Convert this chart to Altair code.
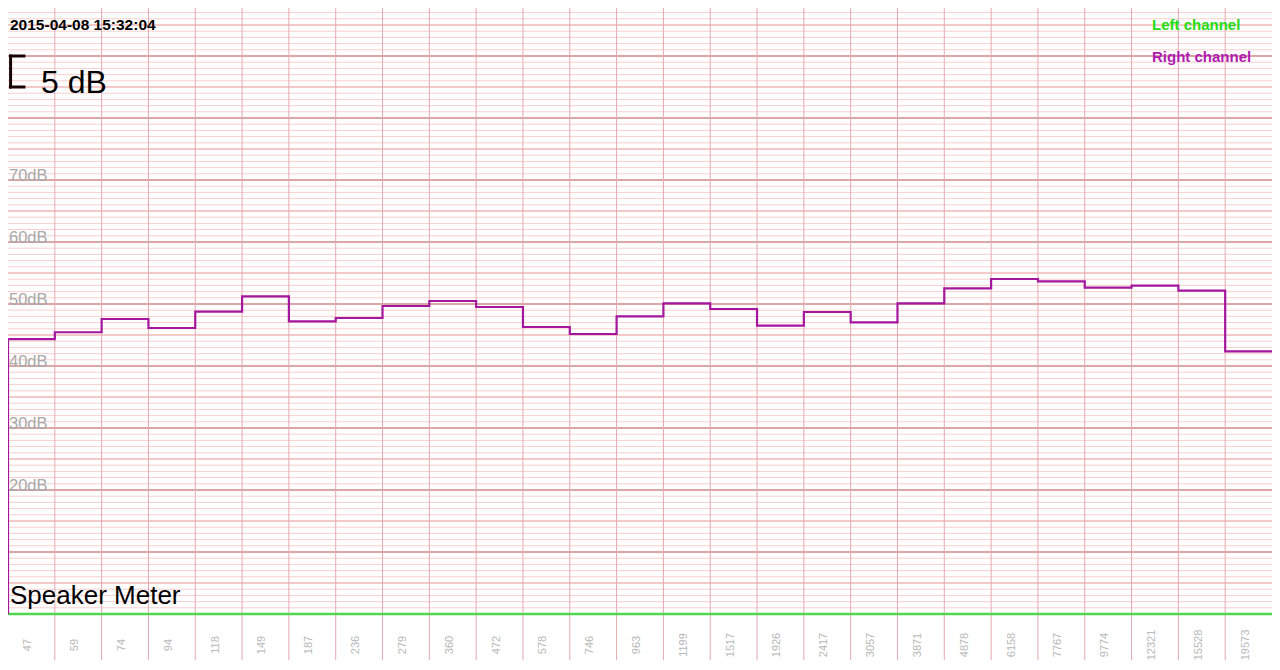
import altair as alt
import pandas as pd

# ---- data ----
freq_labels = ["47", "59", "74", "94", "118", "149", "187", "236", "279", "360",
               "472", "578", "746", "963", "1199", "1517", "1926", "2417", "3057",
               "3871", "4878", "6158", "7767", "9774", "12321", "15528", "19573"]
right_db = [44.35, 45.44, 47.58, 46.13, 48.76, 51.24, 47.21, 47.74, 49.68, 50.48,
            49.52, 46.29, 45.16, 48.02, 50.11, 49.19, 46.5, 48.71, 47.05, 50.11,
            52.53, 54.03, 53.66, 52.63, 52.95, 52.15, 42.37]
left_db = [0.0] * len(freq_labels)
y_label_levels = [20, 30, 40, 50, 60, 70]
minor_levels = list(range(0, 98))
mid_levels = [5, 15, 25, 35, 45, 55, 65, 75, 85, 95]
major_levels = [10, 20, 30, 40, 50, 60, 70, 80, 90]
bracket_db = [85, 90]
timestamp = "2015-04-08 15:32:04"
title_text = "Speaker Meter"
scale_text = "5 dB"

# ---- layout ----
W, H = 1264, 606
PX_PER_DB = 6.2
LABEL_AREA = 46
NB = len(freq_labels)

xs = alt.Scale(domain=[0, NB], nice=False, zero=False)
ys = alt.Scale(domain=[0, H / PX_PER_DB], nice=False, zero=False)


def step_df(vals):
    rows = [{"i": 0, "db": 0.0, "o": 0}]
    for k, v in enumerate(vals):
        rows.append({"i": k, "db": v, "o": k + 1})
    rows.append({"i": NB, "db": vals[-1], "o": NB + 1})
    return pd.DataFrame(rows)


def hrules(levels, color, width):
    return alt.Chart(pd.DataFrame({"db": levels})).mark_rule(
        color=color, strokeWidth=width
    ).encode(y=alt.Y("db:Q", scale=ys, axis=None), x=alt.value(0), x2=alt.value(W))


minor = hrules(minor_levels, "#f7cfcf", 1)
mid = hrules(mid_levels, "#f3bfbf", 1.5)
major = hrules(major_levels, "#dba6a6", 2)

vlines = alt.Chart(pd.DataFrame({"i": list(range(1, NB))})).mark_rule(
    color="#e4a9b0", strokeWidth=1
).encode(x=alt.X("i:Q", scale=xs, axis=None), y=alt.value(0), y2=alt.value(H + LABEL_AREA))

left_line = alt.Chart(step_df(left_db)).mark_line(
    color="#4fd84f", strokeWidth=2.6, interpolate="step-after"
).encode(x=alt.X("i:Q", scale=xs, axis=None), y=alt.Y("db:Q", scale=ys, axis=None),
         order="o:Q")

right_line = alt.Chart(step_df(right_db)).mark_line(
    color="#a5169f", strokeWidth=2.2, interpolate="step-after"
).encode(x=alt.X("i:Q", scale=xs, axis=None), y=alt.Y("db:Q", scale=ys, axis=None),
         order="o:Q")

ylab_df = pd.DataFrame({"db": y_label_levels,
                        "t": [f"{v}dB" for v in y_label_levels]})
ylabels = alt.Chart(ylab_df).mark_text(
    align="left", baseline="alphabetic", font="Liberation Sans", fontSize=16.5,
    color="#a9a9a9", dy=1
).encode(x=alt.value(1), y=alt.Y("db:Q", scale=ys, axis=None), text="t:N")

xlab_df = pd.DataFrame({"c": [k + 0.5 for k in range(NB)], "t": freq_labels})
xlabels = alt.Chart(xlab_df).mark_text(
    align="center", baseline="alphabetic", angle=270, font="Liberation Sans",
    fontSize=11, color="#b8b8b8"
).encode(x=alt.X("c:Q", scale=xs, axis=None), y=alt.value(H + 31), text="t:N")

# bracket for the 5 dB scale
bx0, bx1 = 0.055, 0.34
br_v = alt.Chart(pd.DataFrame({"a": [bracket_db[0]], "b": [bracket_db[1]], "x": [bx0]})).mark_rule(
    color="#1a0505", strokeWidth=3, strokeCap="square"
).encode(x=alt.X("x:Q", scale=xs, axis=None), y=alt.Y("a:Q", scale=ys, axis=None), y2="b:Q")
br_h = alt.Chart(pd.DataFrame({"db": bracket_db, "x": [bx0] * 2, "x2": [bx1] * 2})).mark_rule(
    color="#1a0505", strokeWidth=3, strokeCap="square"
).encode(x=alt.X("x:Q", scale=xs, axis=None), x2="x2:Q", y=alt.Y("db:Q", scale=ys, axis=None))


def text_layer(t, x, y, size, color="#000000", weight="normal", baseline="middle"):
    return alt.Chart(pd.DataFrame({"t": [t]})).mark_text(
        align="left", baseline=baseline, font="Liberation Sans", fontSize=size,
        fontWeight=weight, color=color
    ).encode(x=alt.value(x), y=alt.value(y), text="t:N")


ts = text_layer(timestamp, 2, 17, 15.5, weight="bold")
scale_lbl = text_layer(scale_text, 33, 75, 32)
title = text_layer(title_text, 2, 596, 26, baseline="alphabetic")
leg_l = text_layer("Left channel", 1144, 17, 15, color="#22dd11", weight="bold")
leg_r = text_layer("Right channel", 1144, 49, 15, color="#b01bb0", weight="bold")

chart = alt.layer(
    minor, mid, major, vlines, left_line, right_line, ylabels, xlabels,
    br_v, br_h, ts, scale_lbl, title, leg_l, leg_r
).properties(
    width=W, height=H,
    autosize=alt.AutoSizeParams(type="none"),
    padding={"left": 0, "top": 0, "right": 0, "bottom": LABEL_AREA},
    background="#ffffff",
).configure_view(stroke=None)

chart.save("out.html", embed_options={"renderer": "svg", "actions": False})
